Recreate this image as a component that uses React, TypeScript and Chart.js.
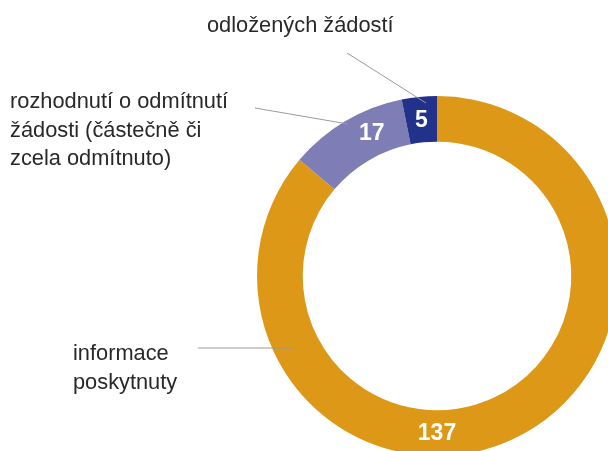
import React, { useEffect, useRef } from "react";
import { Chart, registerables } from "chart.js";

Chart.register(...registerables);

const categories = [
  "informace poskytnuty",
  "rozhodnutí o odmítnutí žádosti (částečně či zcela odmítnuto)",
  "odložených žádostí",
];
const values = [137, 17, 5];
const colors = ["#DC9816", "#7F7DB5", "#22318A"];

// label layout (relative to doughnut center), not data
const labelLines = [
  ["informace", "poskytnuty"],
  ["rozhodnutí o odmítnutí", "žádosti (částečně či", "zcela odmítnuto)"],
  ["odložených žádostí"],
];
const labelPos = [
  { x: -364, y: 84 },
  { x: -427, y: -168 },
  { x: -230, y: -244 },
];
const leaderLines = [
  { x1: -239, y1: 72, x2: -144, y2: 72 },
  { x1: -182, y1: -168, x2: -89, y2: -152 },
  { x1: -90, y1: -223, x2: -11, y2: -173 },
];
const valueAngles = [180, -24.5, -5.7];

const W = 700;
const H = 520;

export default function App() {
  const ref = useRef<HTMLCanvasElement>(null);
  useEffect(() => {
    const canvas = ref.current!;
    const plugin = {
      id: "labels",
      afterDraw(chart: any) {
        const ctx = chart.ctx;
        const meta = chart.getDatasetMeta(0);
        const arc0 = meta.data[0] as any;
        const cx = arc0.x;
        const cy = arc0.y;
        const rMid = (arc0.innerRadius + arc0.outerRadius) / 2;
        ctx.save();
        ctx.strokeStyle = "#9a9a9a";
        ctx.lineWidth = 1;
        leaderLines.forEach((l) => {
          ctx.beginPath();
          ctx.moveTo(cx + l.x1, cy + l.y1);
          ctx.lineTo(cx + l.x2, cy + l.y2);
          ctx.stroke();
        });
        ctx.fillStyle = "#2a2728";
        ctx.font = "21.8px 'Liberation Sans', Arial, sans-serif";
        ctx.textAlign = "left";
        ctx.textBaseline = "alphabetic";
        labelLines.forEach((lines, i) => {
          lines.forEach((t, j) => {
            ctx.fillText(t, cx + labelPos[i].x, cy + labelPos[i].y + j * 28.5);
          });
        });
        ctx.fillStyle = "#ffffff";
        ctx.font = "bold 23px 'Liberation Sans', Arial, sans-serif";
        ctx.textAlign = "center";
        ctx.textBaseline = "middle";
        values.forEach((v, i) => {
          const a = (valueAngles[i] * Math.PI) / 180;
          ctx.fillText(String(v), cx + rMid * Math.sin(a), cy - rMid * Math.cos(a) + 1);
        });
        ctx.restore();
      },
    };
    const chart = new Chart(canvas, {
      type: "doughnut",
      data: {
        labels: categories,
        datasets: [
          {
            data: values,
            backgroundColor: colors,
            borderWidth: 0,
          },
        ],
      },
      options: {
        animation: false,
        responsive: false,
        devicePixelRatio: 1,
        cutout: "74.6%",
        layout: { padding: { left: 257, top: 96, right: W - 617, bottom: H - 456 } },
        plugins: { legend: { display: false }, tooltip: { enabled: false } },
      },
      plugins: [plugin],
    });
    return () => chart.destroy();
  }, []);
  return (
    <div
      style={{
        position: "fixed",
        left: 0,
        top: 0,
        width: 608,
        height: 451,
        overflow: "hidden",
        background: "#fff",
      }}
    >
      <canvas ref={ref} width={W} height={H} style={{ width: W, height: H, display: "block" }} />
    </div>
  );
}
